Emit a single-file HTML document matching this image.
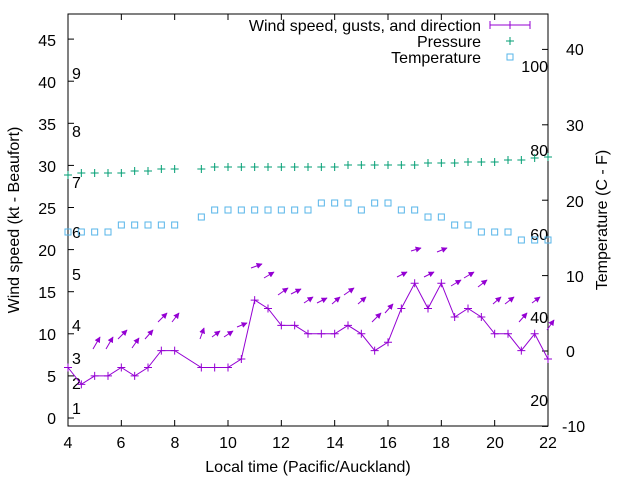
<!DOCTYPE html>
<html><head><meta charset="utf-8"><style>
html,body{margin:0;padding:0;background:#fff;}
svg{display:block;font-family:"Liberation Sans",sans-serif;font-size:16px;}
</style></head><body>
<svg id="s" width="640" height="480" viewBox="0 0 640 480" xmlns="http://www.w3.org/2000/svg">
<defs><marker id="ah" viewBox="0 0 10 10" refX="9" refY="5" markerWidth="6" markerHeight="6" orient="auto" markerUnits="userSpaceOnUse"><path d="M0,0 L10,5 L0,10 z" fill="#9400d3"/></marker></defs>
<rect x="68" y="14" width="480" height="412" fill="none" stroke="#000" stroke-width="1"/>
<g id="ticks" stroke="#000" stroke-width="1"></g>
<g text-anchor="end" fill="#000">
<text x="56" y="424">0</text><text x="56" y="382">5</text><text x="56" y="340">10</text><text x="56" y="298">15</text><text x="56" y="256">20</text><text x="56" y="214">25</text><text x="56" y="172">30</text><text x="56" y="130">35</text><text x="56" y="88">40</text><text x="56" y="46">45</text>
</g>
<g text-anchor="start">
<text x="566" y="55">40</text><text x="566" y="131">30</text><text x="566" y="207">20</text><text x="566" y="282">10</text><text x="566" y="357">0</text><text x="562" y="432">-10</text>
</g>
<g text-anchor="start">
<text x="72" y="414">1</text><text x="72" y="389">2</text><text x="72" y="364">3</text><text x="72" y="331">4</text><text x="72" y="280">5</text><text x="72" y="238">6</text><text x="72" y="188">7</text><text x="72" y="137">8</text><text x="72" y="79">9</text>
</g>
<g text-anchor="end">
<text x="548" y="406">20</text><text x="548" y="323">40</text><text x="548" y="240">60</text><text x="548" y="156">80</text><text x="548" y="72">100</text>
</g>
<g text-anchor="middle">
<text x="68" y="448">4</text><text x="121" y="448">6</text><text x="175" y="448">8</text><text x="228" y="448">10</text><text x="281" y="448">12</text><text x="335" y="448">14</text><text x="388" y="448">16</text><text x="441" y="448">18</text><text x="495" y="448">20</text><text x="548" y="448">22</text>
<text x="308" y="472">Local time (Pacific/Auckland)</text>
<text transform="translate(19,220) rotate(-90)">Wind speed (kt - Beaufort)</text>
<text transform="translate(607,220) rotate(-90)">Temperature (C - F)</text>
</g>
<g text-anchor="end">
<text x="481" y="31">Wind speed, gusts, and direction</text>
<text x="481" y="47">Pressure</text>
<text x="481" y="63">Temperature</text>
</g>
<g stroke="#9400d3" stroke-width="1"><line x1="490" y1="25" x2="530" y2="25"/><line x1="490" y1="21" x2="490" y2="29"/><line x1="530" y1="21" x2="530" y2="29"/><line x1="506" y1="25" x2="514" y2="25"/><line x1="510" y1="21" x2="510" y2="29"/></g>
<g stroke="#009e73" stroke-width="1"><line x1="506" y1="41" x2="514" y2="41"/><line x1="510" y1="37" x2="510" y2="45"/></g>
<rect x="507" y="54" width="6" height="6" fill="none" stroke="#56b4e9" stroke-width="1"/>
<g id="data"></g>
</svg>
<script>
var NS="http://www.w3.org/2000/svg";
function el(p,t,a){var e=document.createElementNS(NS,t);for(var k in a)e.setAttribute(k,a[k]);p.appendChild(e);return e;}
var tk=document.getElementById('ticks');
for(var v=0;v<=45;v+=5){var y=418-v*8.42;el(tk,'line',{x1:68,y1:y,x2:74,y2:y});}
for(var c=-10;c<=40;c+=10){var y=351-c*7.54;el(tk,'line',{x1:542,y1:y,x2:548,y2:y});}
for(var h=4;h<=22;h+=2){var x=68+(h-4)*26.667;el(tk,'line',{x1:x,y1:426,x2:x,y2:420});el(tk,'line',{x1:x,y1:14,x2:x,y2:20});}
var d=document.getElementById('data');
var times=[];for(var t=4;t<=8;t+=0.5)times.push(t);for(t=9;t<=22;t+=0.5)times.push(t);
var X=times.map(function(t){return 68+(t-4)*26.667;});
var W=[6,4,5,5,6,5,6,8,8,6,6,6,7,14,13,11,11,10,10,10,11,10,8,9,13,16,13,16,12,13,12,10,10,8,10,7];
var P=[175,173,173,173,173,171,171,169,169,169,167,167,167,167,167,167,167,167,167,167,165,165,165,165,165,165,163,163,163,162,162,162,160,160,158,157];
var T=[232,232,232,232,225,225,225,225,225,217,210,210,210,210,210,210,210,210,203,203,203,210,203,203,210,210,217,217,225,225,232,232,232,240,240,240];
var pts=[];
for(var i=0;i<X.length;i++){pts.push(X[i].toFixed(1)+','+(418-W[i]*8.42).toFixed(1));}
el(d,'polyline',{points:pts.join(' '),fill:'none',stroke:'#9400d3','stroke-width':1});
for(i=0;i<X.length;i++){var x=X[i],y=418-W[i]*8.42;
el(d,'path',{d:'M'+(x-4)+','+y+'h8M'+x+','+(y-4)+'v8',stroke:'#9400d3','stroke-width':1});
el(d,'path',{d:'M'+(x-4)+','+P[i]+'h8M'+x+','+(P[i]-4)+'v8',stroke:'#009e73','stroke-width':1});
el(d,'rect',{x:x-3,y:T[i]-3,width:6,height:6,fill:'none',stroke:'#56b4e9','stroke-width':1});}
var A=[[93,349,100,337],[106,349,113,337],[118,339,127,330],[132,348,139,338],[145,339,153,330],[158,322,167,313],[172,322,179,313],
[200,339,204,328],[212,337,220,331],[224,337,233,331],[237,327,247,323],[251,268,262,264],[264,278,274,272],[278,295,288,288],[291,294,301,289],
[304,303,313,297],[317,303,327,298],[332,304,340,297],[344,295,354,288],[358,304,366,297],[372,322,381,313],[385,313,393,304],[397,277,407,272],[411,251,421,248],[424,277,434,272],[437,252,447,248],[451,286,461,280],[464,278,474,272],[478,287,487,280],[493,304,501,297],[505,304,514,297],[519,322,527,313],[532,303,540,297],[547,330,554,320]];
A.forEach(function(a){el(d,'line',{x1:a[0],y1:a[1],x2:a[2],y2:a[3],stroke:'#9400d3','stroke-width':1,'marker-end':'url(#ah)'});});
</script>
</body></html>
